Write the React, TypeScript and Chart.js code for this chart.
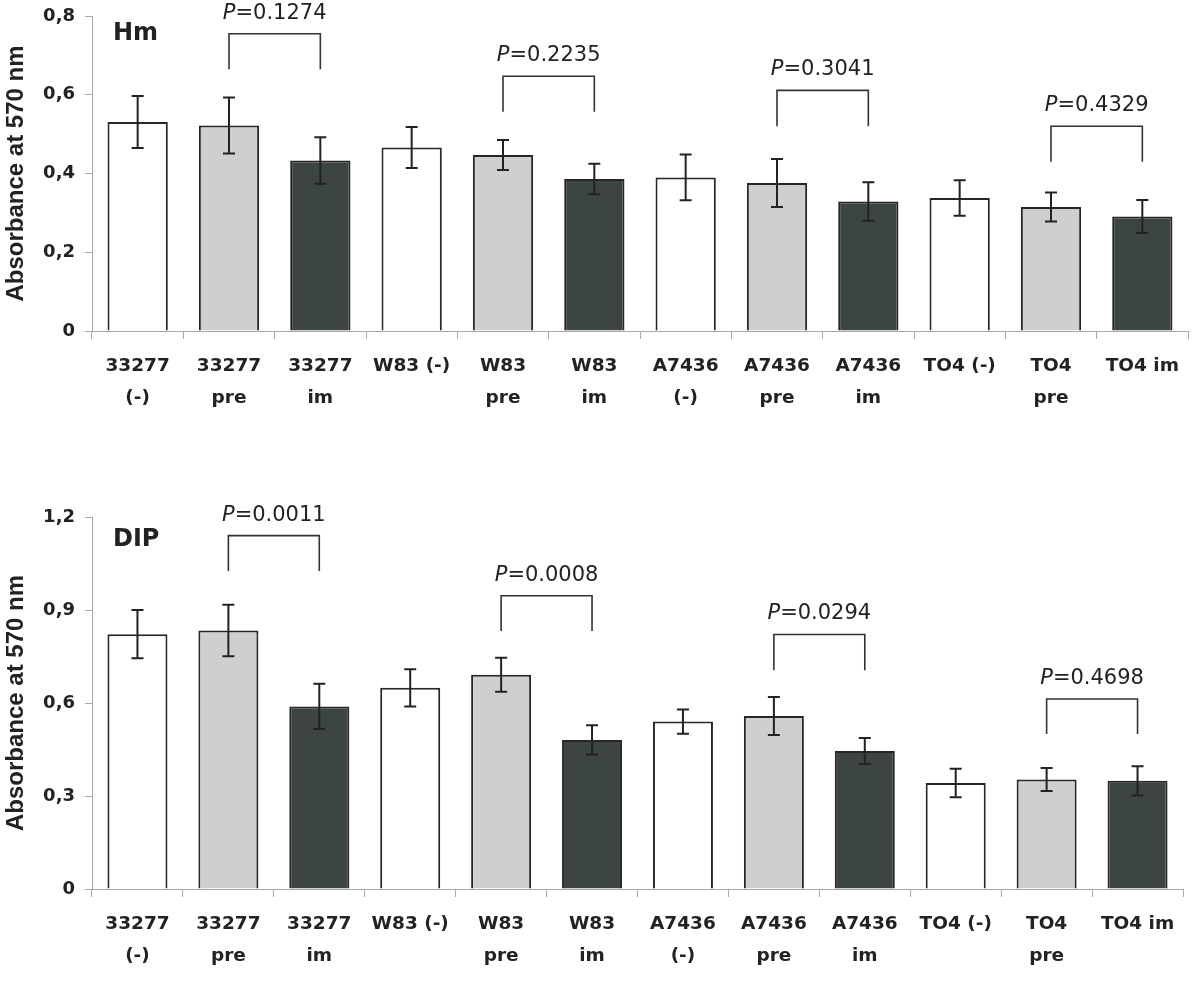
import React, { useEffect, useRef } from "react";
import { Chart, registerables } from "chart.js";
Chart.register(...registerables);

// ---------- data ----------
const categories: string[][] = [
  ["33277", "(-)"], ["33277", "pre"], ["33277", "im"],
  ["W83 (-)"], ["W83", "pre"], ["W83", "im"],
  ["A7436", "(-)"], ["A7436", "pre"], ["A7436", "im"],
  ["TO4 (-)"], ["TO4", "pre"], ["TO4 im"],
];
const treatments = ["neg", "pre", "im", "neg", "pre", "im", "neg", "pre", "im", "neg", "pre", "im"];

const hmValues = [0.531, 0.522, 0.433, 0.466, 0.447, 0.386, 0.390, 0.376, 0.329, 0.338, 0.315, 0.291];
const hmErrors = [0.066, 0.071, 0.059, 0.052, 0.038, 0.039, 0.058, 0.061, 0.049, 0.045, 0.037, 0.042];
const dipValues = [0.822, 0.834, 0.589, 0.649, 0.691, 0.481, 0.540, 0.558, 0.445, 0.342, 0.353, 0.349];
const dipErrors = [0.078, 0.083, 0.073, 0.060, 0.055, 0.047, 0.039, 0.061, 0.042, 0.046, 0.037, 0.047];

const comparePairs = [[1, 2], [4, 5], [7, 8], [10, 11]];
const hmBracketTop = [0.755, 0.647, 0.611, 0.520];
const hmBracketLeg = [0.665, 0.557, 0.520, 0.430];
const hmPValues = ["0.1274", "0.2235", "0.3041", "0.4329"];
const dipBracketTop = [1.140, 0.946, 0.821, 0.613];
const dipBracketLeg = [1.026, 0.832, 0.706, 0.500];
const dipPValues = ["0.0011", "0.0008", "0.0294", "0.4698"];

const hmAxisMax = 0.8;
const hmAxisStep = 0.2;
const dipAxisMax = 1.2;
const dipAxisStep = 0.3;

// ---------- styles ----------
const FILL: Record<string, string> = { neg: "#ffffff", pre: "#cfcfcf", im: "#3d4543" };
const INK = "#222222";
const AXIS = "#a9a9a9";
const BOLD = "'DejaVu Sans', sans-serif";

const annotPlugin = {
  id: "annot",
  afterDatasetsDraw(chart: any, _args: any, opts: any) {
    const ctx = chart.ctx as CanvasRenderingContext2D;
    const xs = chart.scales.x;
    const ys = chart.scales.y;
    const { values, errors, pairs, tops, legs, pvals, panel, panelDy } = opts;
    ctx.save();
    // error bars
    ctx.strokeStyle = INK;
    ctx.lineWidth = 2;
    values.forEach((v: number, i: number) => {
      const x = xs.getPixelForValue(i);
      const y1 = ys.getPixelForValue(v + errors[i]);
      const y2 = ys.getPixelForValue(v - errors[i]);
      ctx.beginPath();
      ctx.moveTo(x, y1); ctx.lineTo(x, y2);
      ctx.moveTo(x - 6, y1); ctx.lineTo(x + 6, y1);
      ctx.moveTo(x - 6, y2); ctx.lineTo(x + 6, y2);
      ctx.stroke();
    });
    // brackets
    ctx.strokeStyle = "#333333";
    ctx.lineWidth = 1.6;
    pairs.forEach((p: number[], k: number) => {
      const x1 = xs.getPixelForValue(p[0]);
      const x2 = xs.getPixelForValue(p[1]);
      const yt = ys.getPixelForValue(tops[k]);
      const yl = ys.getPixelForValue(legs[k]);
      ctx.beginPath();
      ctx.moveTo(x1, yl); ctx.lineTo(x1, yt); ctx.lineTo(x2, yt); ctx.lineTo(x2, yl);
      ctx.stroke();
      const fItal = "italic 21px 'DejaVu Sans', sans-serif";
      const fNorm = "21px 'DejaVu Sans', sans-serif";
      const rest = "=" + pvals[k];
      ctx.font = fItal;
      const wP = ctx.measureText("P").width;
      ctx.font = fNorm;
      const wR = ctx.measureText(rest).width;
      const cx = (x1 + x2) / 2;
      const start = cx - (wP + wR) / 2;
      const base = yt - 15;
      ctx.fillStyle = INK;
      ctx.textBaseline = "alphabetic";
      ctx.textAlign = "left";
      ctx.font = fItal;
      ctx.fillText("P", start, base);
      ctx.font = fNorm;
      ctx.fillText(rest, start + wP, base);
    });
    // panel label
    ctx.font = "bold 24px " + BOLD;
    ctx.fillStyle = INK;
    ctx.textAlign = "left";
    ctx.textBaseline = "alphabetic";
    ctx.fillText(panel, chart.chartArea.left + 21, chart.chartArea.top + panelDy);
    ctx.restore();
  },
};

function makeConfig(
  values: number[], errors: number[], tops: number[], legs: number[], pvals: string[],
  panel: string, max: number, step: number, canvasH: number, areaTop: number, areaBottom: number,
  rightPad: number, panelDy: number
): any {
  return {
    type: "bar",
    data: {
      labels: categories,
      datasets: [{
        data: values,
        backgroundColor: treatments.map((t) => FILL[t]),
        borderColor: "#262626",
        borderWidth: 2,
        categoryPercentage: 1,
        barPercentage: 0.66,
      }],
    },
    plugins: [annotPlugin],
    options: {
      responsive: false,
      animation: false,
      layout: { padding: { top: areaTop, right: rightPad, left: 0, bottom: 0 } },
      plugins: {
        legend: { display: false },
        tooltip: { enabled: false },
        annot: { values, errors, pairs: comparePairs, tops, legs, pvals, panel, panelDy },
      },
      scales: {
        x: {
          grid: { drawOnChartArea: false, tickLength: 8, color: AXIS, offset: true },
          border: { display: true, color: AXIS, width: 1 },
          ticks: {
            color: INK,
            padding: 11,
            maxRotation: 0,
            autoSkip: false,
            font: { family: BOLD, weight: "bold", size: 18.5, lineHeight: 1.73 },
          },
          afterFit: (s: any) => { s.height = canvasH - areaBottom; s.paddingLeft = 0; s.paddingRight = 0; },
        },
        y: {
          min: 0,
          max,
          grid: { drawOnChartArea: false, tickLength: 7, color: AXIS },
          border: { display: true, color: AXIS, width: 1 },
          ticks: {
            stepSize: step,
            color: INK,
            padding: 10,
            font: { family: BOLD, weight: "bold", size: 18 },
            callback: (v: any) => (Number(v) === 0 ? "0" : Number(v).toFixed(1).replace(".", ",")),
          },
          title: {
            display: true,
            text: "Absorbance at 570 nm",
            color: INK,
            padding: { top: 2, bottom: 0 },
            font: { family: "'Liberation Sans', Arial, sans-serif", weight: "bold", size: 24 },
          },
          afterFit: (s: any) => { s.width = 92; s.paddingTop = 0; s.paddingBottom = 0; },
        },
      },
    },
  };
}

export default function App() {
  const topRef = useRef<HTMLCanvasElement>(null);
  const botRef = useRef<HTMLCanvasElement>(null);
  useEffect(() => {
    const c1 = new Chart(topRef.current as HTMLCanvasElement,
      makeConfig(hmValues, hmErrors, hmBracketTop, hmBracketLeg, hmPValues, "Hm",
        hmAxisMax, hmAxisStep, 490, 16, 331, 12, 24));
    const c2 = new Chart(botRef.current as HTMLCanvasElement,
      makeConfig(dipValues, dipErrors, dipBracketTop, dipBracketLeg, dipPValues, "DIP",
        dipAxisMax, dipAxisStep, 500, 27, 399, 17, 29));
    return () => { c1.destroy(); c2.destroy(); };
  }, []);
  return (
    <div style={{ position: "absolute", left: 0, top: 0, width: 1200, height: 990, background: "#fff" }}>
      <canvas ref={topRef} width={1200} height={490} style={{ display: "block", width: 1200, height: 490 }} />
      <canvas ref={botRef} width={1200} height={500} style={{ display: "block", width: 1200, height: 500 }} />
    </div>
  );
}
